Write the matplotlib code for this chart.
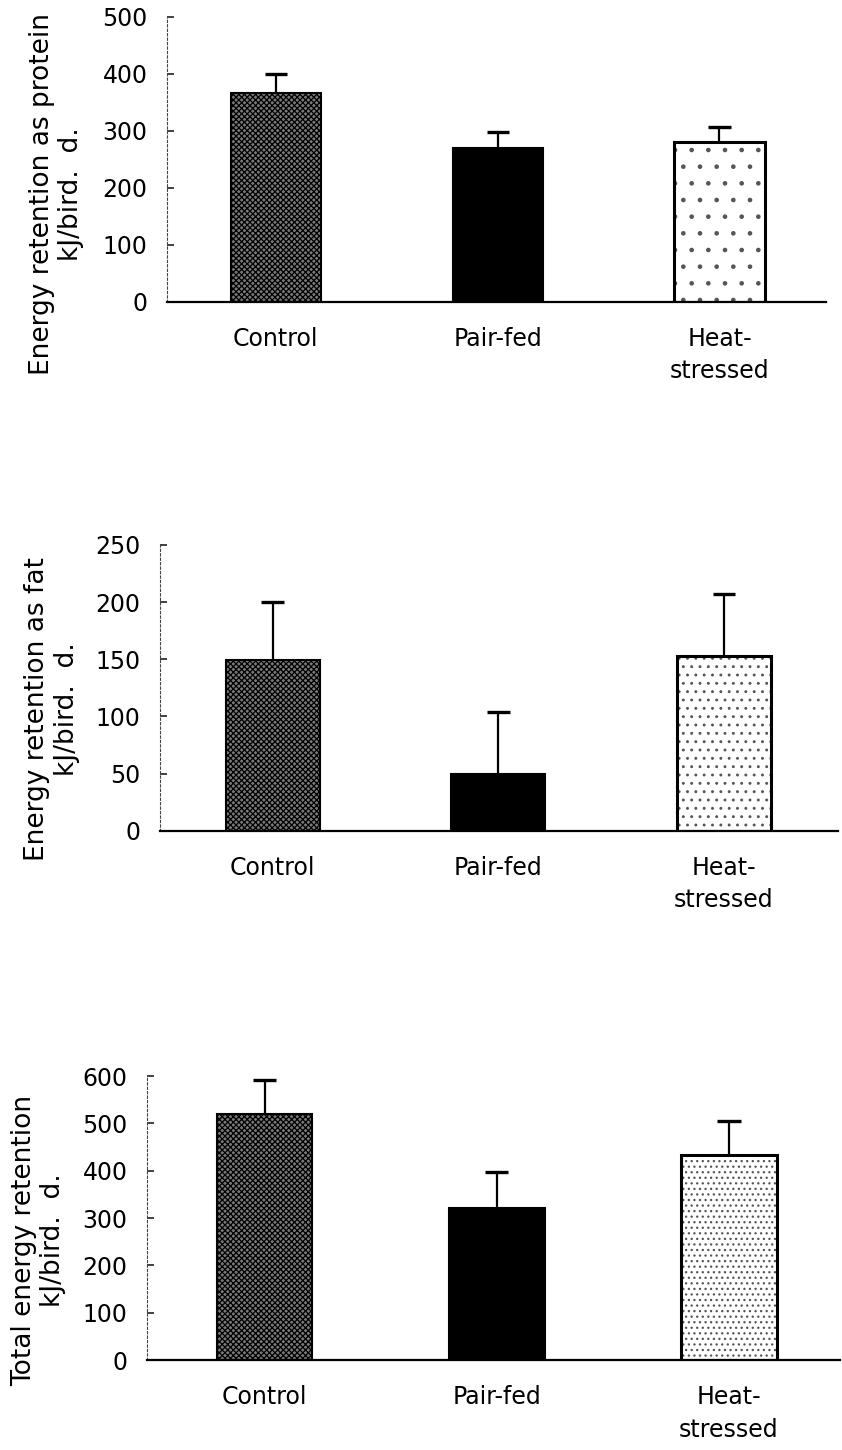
import numpy as np
import matplotlib.pyplot as plt

plt.rcParams['font.family'] = ['DejaVu Sans']
plt.rcParams['hatch.linewidth'] = 0.9

# Данные (среднее и верхняя ошибка)
groups = ['Control', 'Pair-fed', 'Heat-\nstressed']

protein_mean = [366, 270, 280]
protein_se = [34, 27, 27]

fat_mean = [149, 50, 153]
fat_se = [51, 54, 54]

total_mean = [520, 321, 433]
total_se = [72, 77, 72]

ylabels = [
    'Energy retention as protein\nkJ/bird.  d.',
    'Energy retention as fat\nkJ/bird.  d.',
    'Total energy retention\nkJ/bird.  d.',
]

W, H = 842, 1450
fig = plt.figure(figsize=(W / 100, H / 100), dpi=100)

# Геометрия панелей в пикселях: left, right, top, bottom, xlim, ширина столбца
panels = [
    dict(mean=protein_mean, se=protein_se, ylim=500, step=100,
         box=(167, 826, 16.7, 301.7), xlim=(-0.49, 2.48), bw=0.406,
         lab=(57, 194), dots='.'),
    dict(mean=fat_mean, se=fat_se, ylim=250, step=50,
         box=(160, 838, 545, 830.7), xlim=(-0.50, 2.506), bw=0.417,
         lab=(52, 709), dots='..'),
    dict(mean=total_mean, se=total_se, ylim=600, step=100,
         box=(147, 840, 1076, 1360), xlim=(-0.506, 2.478), bw=0.413,
         lab=(39, 1240), dots='...'),
]

for p, ylab in zip(panels, ylabels):
    l, r, t, b = p['box']
    ax = fig.add_axes([l / W, 1 - b / H, (r - l) / W, (b - t) / H])
    x = np.arange(len(groups))
    m = np.array(p['mean'], dtype=float)
    se = np.array(p['se'], dtype=float)
    bw = p['bw']

    # Control: плотная штриховка
    ax.bar(x[0], m[0], width=bw, facecolor='#7a7a7a', edgecolor='black',
           hatch='xxxxxx', linewidth=1.5, zorder=2)
    # Pair-fed: сплошной чёрный
    ax.bar(x[1], m[1], width=bw, facecolor='black', edgecolor='black',
           linewidth=1.5, zorder=2)
    # Heat-stressed: белый с редкими точками
    ax.bar(x[2], m[2], width=bw, facecolor='white', edgecolor='#555555',
           hatch=p['dots'], linewidth=0, zorder=2)
    ax.bar(x[2], m[2], width=bw, fill=False, edgecolor='black',
           linewidth=2.2, zorder=3)

    # Только верхние планки погрешностей
    cw = 0.05
    ax.vlines(x, m, m + se, color='black', linewidth=1.6, zorder=4)
    ax.hlines(m + se, x - cw, x + cw, color='black', linewidth=2.4, zorder=4)

    ax.set_xlim(*p['xlim'])
    ax.set_ylim(0, p['ylim'])
    ax.set_yticks(np.arange(0, p['ylim'] + 1, p['step']))
    ax.set_xticks(x)
    ax.set_xticklabels(groups, fontsize=17, linespacing=1.45)

    ax.tick_params(axis='y', direction='in', length=5, width=1.3,
                   labelsize=17, pad=14, color='#333333')
    ax.tick_params(axis='x', length=0, pad=18)

    ax.spines['top'].set_visible(False)
    ax.spines['right'].set_visible(False)
    ax.spines['bottom'].set_linewidth(1.6)
    ax.spines['left'].set_linewidth(0.8)
    ax.spines['left'].set_color('#444444')
    ax.spines['left'].set_linestyle((0, (2, 2)))

    fig.text(p['lab'][0] / W, 1 - p['lab'][1] / H, ylab, rotation=90,
             ha='center', va='center', multialignment='center',
             fontsize=19, linespacing=1.15)

fig.savefig('out.png', dpi=100)
